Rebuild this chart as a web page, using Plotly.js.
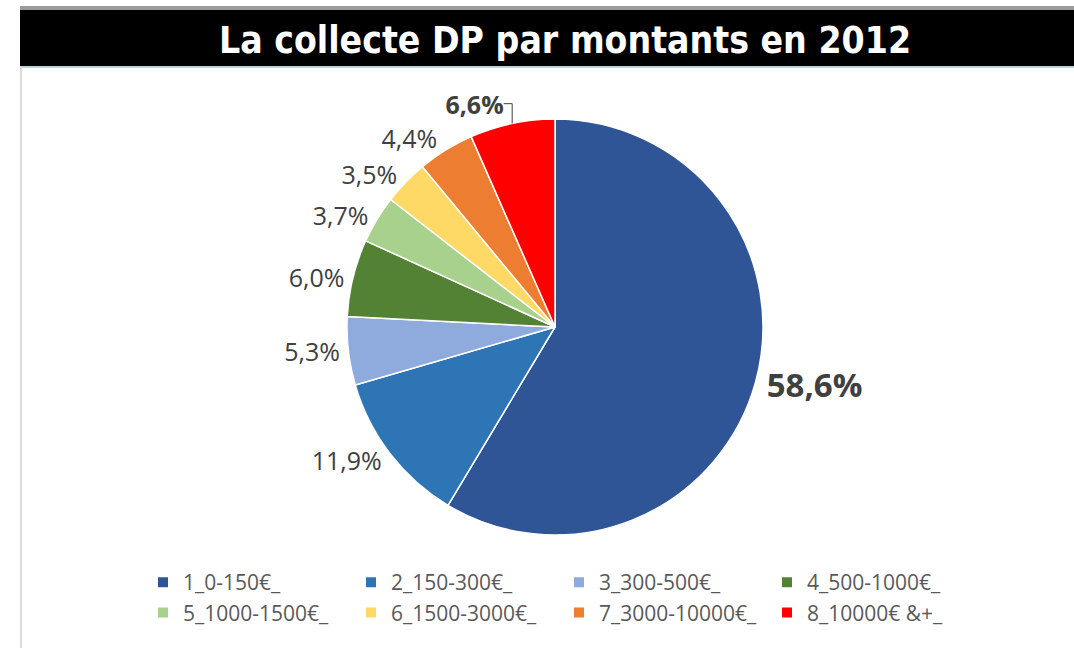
<!DOCTYPE html>
<html>
<head>
<meta charset="utf-8">
<script src="https://cdn.plot.ly/plotly-3.0.1.min.js"></script>
<style>html,body{margin:0;padding:0;background:#fff;}#chart{width:1074px;height:648px;}</style>
</head>
<body>
<div id="chart"></div>
<script>
const categories = ["1_0-150€_", "2_150-300€_", "3_300-500€_", "4_500-1000€_", "5_1000-1500€_", "6_1500-3000€_", "7_3000-10000€_", "8_10000€ &+_"];
const shares = [58.6, 11.9, 5.3, 6.0, 3.7, 3.5, 4.4, 6.6];
const sliceColors = ["#2F5597", "#2E75B6", "#8FAADC", "#548235", "#A9D18E", "#FFD966", "#ED7D31", "#FF0000"];
const boldLabels = [true, false, false, false, false, false, false, true];
const chartTitle = "La collecte DP par montants en 2012";

const labelText = shares.map((v, i) => {
  const s = v.toFixed(1).replace('.', ',') + '%';
  return boldLabels[i] ? '<b>' + s + '</b>' : s;
});
const labelSizes = shares.map((v, i) => i === 0 ? 33 : 25);

const W = 1074, H = 648;
const ML = 143;                    // left margin so the legend starts at the reference position
const PW = W - ML;                 // plot-area width
const px = x => (x - ML) / PW;     // page pixel -> paper fraction (x)
const py = y => 1 - y / H;         // page pixel -> paper fraction (y)

const trace = {
  type: 'pie',
  labels: categories,
  values: shares,
  text: labelText,
  textinfo: 'text',
  textposition: 'outside',
  sort: false,
  direction: 'clockwise',
  rotation: 0,
  marker: { colors: sliceColors, line: { color: '#ffffff', width: 1.5 } },
  outsidetextfont: { family: 'Open Sans, sans-serif', size: labelSizes, color: '#404040' },
  domain: { x: [px(347), px(763)], y: [py(535), py(119)] },
  hoverinfo: 'label+percent',
  automargin: false
};

const layout = {
  width: W, height: H,
  margin: { l: ML, r: 0, t: 0, b: 0 },
  paper_bgcolor: '#ffffff',
  plot_bgcolor: 'rgba(0,0,0,0)',
  showlegend: true,
  title: {
    text: '<b>' + chartTitle + '</b>',
    xref: 'container',
    x: 565 / W, xanchor: 'center',
    yref: 'container',
    y: 1 - 40 / H, yanchor: 'middle',
    font: { family: 'Liberation Sans Narrow, DejaVu Sans Condensed, Roboto, sans-serif', size: 37, color: '#ffffff' }
  },
  legend: {
    orientation: 'h',
    x: 0, xanchor: 'left',
    y: py(562), yanchor: 'top',
    entrywidth: 163,
    entrywidthmode: 'pixels',
    font: { family: 'Open Sans, sans-serif', size: 21, color: '#595959' },
    itemsizing: 'constant'
  },
  shapes: [
    { type: 'rect', xref: 'paper', yref: 'paper', x0: px(20), x1: 1, y0: py(10), y1: py(6), fillcolor: '#9a9a9a', line: { width: 0 }, layer: 'below' },
    { type: 'rect', xref: 'paper', yref: 'paper', x0: px(20), x1: 1, y0: py(66), y1: py(10), fillcolor: '#000000', line: { width: 0 }, layer: 'below' },
    { type: 'rect', xref: 'paper', yref: 'paper', x0: px(20), x1: 1, y0: py(68), y1: py(66), fillcolor: '#bcd3dc', line: { width: 0 }, layer: 'below' },
    { type: 'rect', xref: 'paper', yref: 'paper', x0: px(20), x1: px(22), y0: 0, y1: py(67), fillcolor: '#dcdcdc', line: { width: 0 }, layer: 'below' }
  ]
};

Plotly.newPlot('chart', [trace], layout, { displayModeBar: false });
</script>
</body>
</html>
